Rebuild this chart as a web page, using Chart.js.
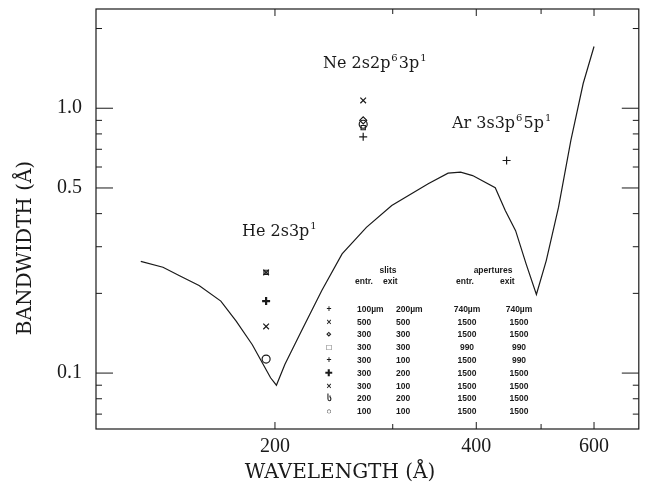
<!DOCTYPE html>
<html>
<head>
<meta charset="utf-8">
<script src="https://cdn.jsdelivr.net/npm/chart.js@4.4.0/dist/chart.umd.min.js"></script>
<style>
  body { margin: 0; background: #fff; }
  #wrap { width: 645px; height: 486px; }
</style>
</head>
<body>
<div id="wrap"><canvas id="chart" width="645" height="486"></canvas></div>
<script>
// monochromator bandwidth curve (wavelength in Å, bandwidth in Å)
const curveWl = [126, 136, 144, 154, 166, 175, 185, 192, 197, 201, 207, 219, 235, 252, 274, 299, 339, 363, 379, 395, 427, 442, 458, 475, 492, 509, 531, 554, 578, 600];
const curveBw = [0.264, 0.251, 0.233, 0.214, 0.187, 0.157, 0.128, 0.108, 0.096, 0.090, 0.108, 0.144, 0.205, 0.282, 0.355, 0.429, 0.519, 0.569, 0.574, 0.557, 0.501, 0.411, 0.345, 0.258, 0.198, 0.266, 0.423, 0.756, 1.24, 1.71];

// measured resonance widths, one pair of arrays per symbol
const timesWl = [194, 194, 271];      // ×
const timesBw = [0.240, 0.150, 1.07];
const squareWl = [194, 271];          // □
const squareBw = [0.240, 0.845];
const diamondWl = [271];              // ◇
const diamondBw = [0.90];
const plusWl = [271, 444];            // +
const plusBw = [0.78, 0.635];
const boldPlusWl = [194];             // heavy +
const boldPlusBw = [0.187];
const circleWl = [194, 271];          // ○
const circleBw = [0.113, 0.87];

// tick labels
const xLabels = [200, 400, 600];
const yLabels = [1.0, 0.5, 0.1];

// resonance labels: [text, superscript, text, superscript]
const heLabel = ['He 2s3p', '1'];
const neLabel = ['Ne 2s2p', '6', '3p', '1'];
const arLabel = ['Ar 3s3p', '6', '5p', '1'];

// legend table
const tableHead = ['entr.', 'exit', 'entr.', 'exit'];
const tableSym = ['+', '×', '⋄', '□', '+', '✚', '×', 'ს', '○'];
const tableRows = [
  ['100µm', '200µm', '740µm', '740µm'],
  ['500', '500', '1500', '1500'],
  ['300', '300', '1500', '1500'],
  ['300', '300', '990', '990'],
  ['300', '100', '1500', '990'],
  ['300', '200', '1500', '1500'],
  ['300', '100', '1500', '1500'],
  ['200', '200', '1500', '1500'],
  ['100', '100', '1500', '1500']
];

const ink = '#1a1a1a';
const serif = "'Liberation Serif', 'DejaVu Serif', serif";
const wideSerif = "'DejaVu Serif', serif";

function pts(xs, ys) { return xs.map((x, i) => ({ x: x, y: ys[i] })); }

function isNice(v) {
  const e = Math.floor(Math.log10(v) + 1e-9);
  const m = v / Math.pow(10, e);
  return Math.abs(m - Math.round(m)) < 1e-6;
}
function inList(v, list) { return list.some(l => Math.abs(l - v) < 1e-6 * l); }

function markerSet(xs, ys, style, r, w) {
  return {
    data: pts(xs, ys), showLine: false, pointStyle: style,
    pointRadius: r, pointBorderWidth: w || 1.2,
    pointBorderColor: ink, pointBackgroundColor: 'rgba(0,0,0,0)'
  };
}

function noPad(s) {
  s.paddingTop = 0; s.paddingBottom = 0; s.paddingLeft = 0; s.paddingRight = 0;
}

// text with alternating normal / superscript parts
function supText(ctx, parts, x, y) {
  parts.forEach((p, i) => {
    const sup = i % 2 === 1;
    ctx.font = (sup ? '10px ' : '16px ') + wideSerif;
    ctx.fillText(p, x + (sup ? 1 : 0), sup ? y - 7 : y);
    x += ctx.measureText(p).width + (sup ? 2 : 0);
  });
}

// frame, inward ticks, text
const decor = {
  id: 'decor',
  afterDraw(chart) {
    const { ctx, chartArea: a, scales } = chart;
    const xs = scales.x, ys = scales.y;
    ctx.save();
    ctx.strokeStyle = ink;
    ctx.lineWidth = 1.2;
    ctx.strokeRect(a.left, a.top, a.right - a.left, a.bottom - a.top);

    ctx.lineWidth = 1;
    ctx.beginPath();
    xs.ticks.forEach(t => {
      if (!isNice(t.value)) return;
      const px = xs.getPixelForValue(t.value);
      if (px <= a.left + 1 || px >= a.right - 1) return;
      const len = inList(t.value, xLabels) ? 7 : 5;
      ctx.moveTo(px, a.bottom); ctx.lineTo(px, a.bottom - len);
      ctx.moveTo(px, a.top); ctx.lineTo(px, a.top + len);
    });
    ys.ticks.forEach(t => {
      if (!isNice(t.value) && !inList(t.value, yLabels)) return;
      const py = ys.getPixelForValue(t.value);
      if (py <= a.top + 1 || py >= a.bottom - 1) return;
      const len = inList(t.value, yLabels) ? 17 : 6;
      ctx.moveTo(a.left, py); ctx.lineTo(a.left + len, py);
      ctx.moveTo(a.right, py); ctx.lineTo(a.right - len, py);
    });
    ctx.stroke();

    // axis titles
    ctx.fillStyle = ink;
    ctx.font = '20px ' + wideSerif;
    ctx.textAlign = 'center';
    ctx.textBaseline = 'middle';
    ctx.fillText('WAVELENGTH (Å)', 340, 473);
    ctx.save();
    ctx.translate(26, 248);
    ctx.rotate(-Math.PI / 2);
    ctx.fillText('BANDWIDTH (Å)', 0, 0);
    ctx.restore();

    // element labels
    ctx.textAlign = 'left';
    ctx.textBaseline = 'alphabetic';
    supText(ctx, heLabel, 242, 236);
    supText(ctx, neLabel, 323, 68);
    supText(ctx, arLabel, 452, 128);

    // table
    ctx.font = "bold 8.5px 'Liberation Sans', sans-serif";
    ctx.textBaseline = 'middle';
    ctx.textAlign = 'center';
    ctx.fillText('slits', 388, 271);
    ctx.fillText('apertures', 493, 271);
    ctx.textAlign = 'left';
    const headX = [355, 383, 456, 500];
    tableHead.forEach((h, i) => ctx.fillText(h, headX[i], 282));
    tableRows.forEach((row, r) => {
      const y = 309.5 + r * 12.8;
      ctx.textAlign = 'center';
      ctx.fillText(tableSym[r], 329, y);
      ctx.textAlign = 'left';
      ctx.fillText(row[0], 357, y);
      ctx.fillText(row[1], 396, y);
      ctx.textAlign = 'center';
      ctx.fillText(row[2], 467, y);
      ctx.fillText(row[3], 519, y);
    });
    ctx.restore();
  }
};

new Chart(document.getElementById('chart'), {
  type: 'scatter',
  data: {
    datasets: [
      {
        data: pts(curveWl, curveBw), showLine: true, pointRadius: 0,
        borderColor: ink, borderWidth: 1.2, tension: 0
      },
      markerSet(timesWl, timesBw, 'crossRot', 4),
      markerSet(squareWl, squareBw, 'rect', 3),
      markerSet(diamondWl, diamondBw, 'rectRot', 3.5),
      markerSet(plusWl, plusBw, 'cross', 4),
      markerSet(boldPlusWl, boldPlusBw, 'cross', 4, 2.2),
      markerSet(circleWl, circleBw, 'circle', 4)
    ]
  },
  options: {
    responsive: false,
    animation: false,
    layout: { padding: { top: 9, right: 3, left: 0, bottom: 0 } },
    plugins: { legend: { display: false }, tooltip: { enabled: false } },
    scales: {
      x: {
        type: 'logarithmic', min: 108, max: 700,
        grid: { display: false, drawTicks: false },
        border: { display: false },
        afterFit: s => { s.height = 57; noPad(s); },
        ticks: {
          autoSkip: false, maxRotation: 0, padding: 6, color: ink,
          font: { family: serif, size: 20 },
          callback: v => inList(v, xLabels) ? String(Math.round(v)) : ''
        }
      },
      y: {
        type: 'logarithmic', min: 0.0615, max: 2.37,
        grid: { display: false, drawTicks: false },
        border: { display: false },
        afterFit: s => { s.width = 96; noPad(s); },
        ticks: {
          autoSkip: false, padding: 14, color: ink,
          font: { family: serif, size: 20 },
          callback: v => inList(v, yLabels) ? v.toFixed(1) : ''
        }
      }
    }
  },
  plugins: [decor]
});
</script>
</body>
</html>
